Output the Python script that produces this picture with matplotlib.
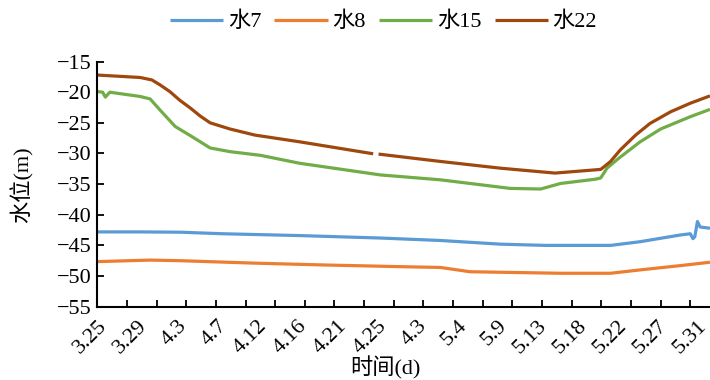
import numpy as np
import matplotlib
matplotlib.use("Agg")
import matplotlib.pyplot as plt

plt.rcParams['font.family'] = ['Liberation Serif', 'Noto Sans CJK SC']
plt.rcParams['axes.unicode_minus'] = True

# date labels along the time axis (evenly spaced, days since 3.25)
date_labels = ["3.25", "3.29", "4.3", "4.7", "4.12", "4.16", "4.21", "4.25",
               "4.3", "5.4", "5.9", "5.13", "5.18", "5.22", "5.27", "5.31"]
label_step = 67 / 15

# water level readings (m), days since 3.25
w7_t = [0, 4.8, 9.3, 14.0, 22.6, 31.6, 38.3, 45.0, 50.0, 57.3, 60.6, 65.1, 66.2, 66.5, 66.7, 67.0, 67.3, 68.4]
w7_v = [-42.8, -42.8, -42.85, -43.1, -43.4, -43.8, -44.2, -44.8, -45.0, -45.0, -44.4, -43.3, -43.1, -43.9, -43.6, -41.1, -42.0, -42.2]

w8_t = [0, 5.9, 9.3, 17.6, 25.4, 34.7, 38.3, 41.6, 51.7, 57.3, 60.6, 65.1, 68.4]
w8_v = [-47.65, -47.4, -47.5, -47.9, -48.2, -48.5, -48.6, -49.3, -49.55, -49.55, -49.0, -48.3, -47.75]

w15_t = [0, 0.6, 0.9, 1.4, 4.8, 5.9, 7.0, 8.7, 10.4, 12.6, 14.8, 18.2, 22.6, 31.6, 38.3, 46.1,
         49.5, 51.7, 55.6, 56.2, 56.9, 58.2, 60.6, 62.9, 66.2, 68.4]
w15_v = [-19.9, -20.0, -20.8, -20.0, -20.7, -21.1, -22.9, -25.6, -27.1, -29.1, -29.7, -30.3, -31.6,
         -33.5, -34.3, -35.7, -35.8, -34.9, -34.2, -34.0, -32.4, -30.8, -28.1, -26.0, -24.0, -22.8]

w22_t = [0, 4.8, 6.1, 7.0, 8.1, 9.2, 10.4, 11.5, 12.6, 14.8, 17.6, 22.6, 30.8, np.nan, 31.4, 38.3, 45.0,
         51.1, 56.2, 57.3, 58.4, 60.1, 61.7, 64.0, 66.2, 68.4]
w22_v = [-17.2, -17.6, -18.0, -18.8, -19.9, -21.3, -22.6, -23.9, -25.0, -26.0, -27.0, -28.1, -30.05, np.nan, -30.1,
         -31.3, -32.4, -33.2, -32.6, -31.3, -29.4, -27.0, -25.1, -23.2, -21.8, -20.6]

series = [("水7", w7_t, w7_v, "#5B9BD5"),
          ("水8", w8_t, w8_v, "#ED7D31"),
          ("水15", w15_t, w15_v, "#70AD47"),
          ("水22", w22_t, w22_v, "#9E480E")]

fig = plt.figure(figsize=(7.1, 3.8), dpi=100)
ax = fig.add_axes([0.137, 0.193, 0.863, 0.645])

for name, t, v, c in series:
    ax.plot(t, v, color=c, linewidth=2.3, label=name, solid_capstyle='butt')

xmax = 68.4
ax.set_xlim(0, xmax)
ax.set_ylim(-55, -15)
ax.set_yticks(np.arange(-55, -14, 5))

# tick marks and date labels sit on different spacings
ax.xaxis.remove_overlapping_locs = False
ax.set_xticks(np.arange(0, xmax, 3.31))
ax.set_xticklabels([])
ax.set_xticks(np.arange(len(date_labels)) * label_step, minor=True)
ax.set_xticklabels(date_labels, minor=True, rotation=45, ha='right', va='top',
                   rotation_mode='anchor', fontsize=16)
ax.tick_params(axis='x', which='major', direction='in', length=5, width=1.3)
ax.tick_params(axis='x', which='minor', length=0, pad=7)
ax.tick_params(axis='y', direction='in', length=5, width=1.3, labelsize=16, pad=4)

for s in ['top', 'right']:
    ax.spines[s].set_visible(False)
for s in ['left', 'bottom']:
    ax.spines[s].set_linewidth(1.5)

fig.text(22 / 710, 1 - 185 / 380, "水位(m)", fontsize=16, rotation=90, ha='center', va='center')
fig.text(385 / 710, 1 - 368 / 380, "时间(d)", fontsize=16, ha='center', va='center')

fig.legend(loc='center', bbox_to_anchor=(0.54, 0.942), ncol=4, frameon=False,
           fontsize=16, handlelength=2.4, columnspacing=0.6, handletextpad=0.2)

fig.savefig("out.png", dpi=100)
